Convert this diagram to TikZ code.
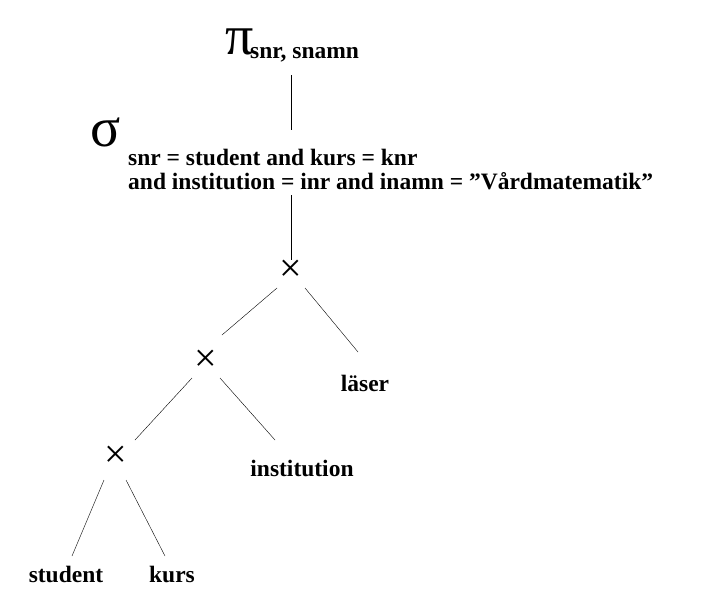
\documentclass[tikz,border=0pt]{standalone}
\usepackage{fontspec}
\setmainfont{Liberation Serif}
\begin{document}
\begin{tikzpicture}[x=1pt,y=-1pt,
  lbl/.style={font=\bfseries\fontsize{23.5}{26}\selectfont,inner sep=0pt},
  op/.style={font=\fontsize{56}{56}\selectfont,inner sep=0pt},
  kryss/.style={font=\fontsize{40}{40}\selectfont,inner sep=0pt}]
  \useasboundingbox (0,0) rectangle (711,602);
  % projektion och selektion
  \node[op] (pi) at (240,42) {π};
  \node[lbl,anchor=west] (pisub) at (250,55) {snr, snamn};
  \node[op] (sigma) at (106,132) {σ};
  \node[lbl,anchor=west] (sig1) at (128,157) {snr = student and kurs = knr};
  \node[lbl,anchor=west] (sig2) at (128,181) {and institution = inr and inamn = \char"22Vårdmatematik\char"22};
  \coordinate (pibot) at (291,75);
  \coordinate (sigtop) at (291,130);
  \coordinate (sigbot) at (291,195);
  % kryssprodukter
  \node[kryss] (k1) at (291,271) {×};
  \node[kryss] (k2) at (206,361) {×};
  \node[kryss] (k3) at (116,457) {×};
  % relationer
  \node[lbl] (laser) at (365,383) {läser};
  \node[lbl] (inst) at (302,468) {institution};
  \node[lbl] (student) at (66,574) {student};
  \node[lbl] (kurs) at (172,574) {kurs};
  % kanter
  \draw (pibot) -- (sigtop);
  \draw (sigbot) -- (k1.north);
  \draw (277,288) -- (222,335);
  \draw (305,288) -- (358,352);
  \draw (192,378) -- (135,440);
  \draw (220,378) -- (275,440);
  \draw (104,480) -- (72,556);
  \draw (126,480) -- (165,556);
\end{tikzpicture}
\end{document}
